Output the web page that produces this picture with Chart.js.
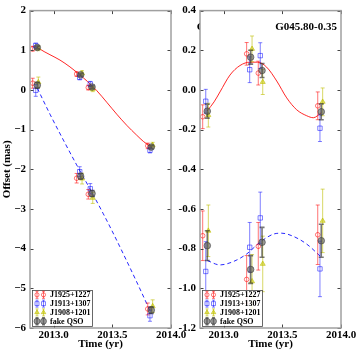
<!DOCTYPE html>
<html><head><meta charset="utf-8">
<script src="https://cdn.jsdelivr.net/npm/chart.js@4.4.1/dist/chart.umd.min.js"></script>
<style>
html,body{margin:0;padding:0;background:#fff;}
#wrap{position:relative;width:361px;height:354px;overflow:hidden;}
canvas{position:absolute;left:0;top:0;}
</style></head><body>
<div id="wrap"><canvas id="cL" width="361" height="354" style="width:361px;height:354px"></canvas><canvas id="cR" width="361" height="354" style="width:361px;height:354px"></canvas></div>
<script>
// ---------- data ----------
const sourceNames = ['J1925+1227', 'J1913+1307', 'J1908+1201', 'fake QSO'];
const fieldLabel = 'G045.80-0.35';
const xTickValues = [2013.0, 2013.5, 2014.0];
const leftYTickValues = [2, 1, 0, -1, -2, -3, -4, -5, -6];
const rightYTickValues = [0.4, 0.2, 0.0, -0.2, -0.4, -0.6, -0.8, -1.0, -1.2];

// observation epochs (years), per source (plotted with small offsets)
const epochRed    = [2012.823, 2013.197, 2013.296, 2013.802];
const epochBlue   = [2012.849, 2013.223, 2013.313, 2013.821];
const epochYellow = [2012.871, 2013.243, 2013.334, 2013.844];
const epochQSO    = [2012.862, 2013.231, 2013.328, 2013.832];

// left panel: total offsets (mas), upper series
const totUpRed    = [1.04, 0.40, 0.06, -1.41];
const totUpBlue   = [1.12, 0.32, 0.15, -1.52];
const totUpYellow = [1.05, 0.42, 0.02, -1.39];
const totUpQSO    = [1.07, 0.38, 0.075, -1.44];
// left panel: total offsets (mas), lower series
const totLoRed    = [0.17, -2.225, -2.63, -5.52];
const totLoBlue   = [-0.01, -2.06, -2.49, -5.69];
const totLoYellow = [0.195, -2.235, -2.72, -5.45];
const totLoQSO    = [0.12, -2.175, -2.61, -5.55];

// right panel: parallax-only offsets (mas)
const parUpRed    = [-0.135, 0.182, 0.085, -0.08];
const parUpBlue   = [-0.057, 0.102, 0.173, -0.193];
const parUpYellow = [-0.127, 0.207, 0.04, -0.06];
const parUpQSO    = [-0.107, 0.165, 0.098, -0.11];
const parLoRed    = [-0.735, -0.955, -0.788, -0.73];
const parLoBlue   = [-0.915, -0.793, -0.645, -0.902];
const parLoYellow = [-0.71, -0.965, -0.877, -0.66];
const parLoQSO    = [-0.785, -0.905, -0.768, -0.76];

// 1-sigma errors (mas)
const errUpRed    = [0.06, 0.057, 0.06, 0.07];
const errUpBlue   = [0.06, 0.065, 0.065, 0.067];
const errUpYellow = [0.06, 0.065, 0.063, 0.07];
const errUpQSO    = [0.035, 0.035, 0.035, 0.04];
const errLoRed    = [0.125, 0.12, 0.12, 0.15];
const errLoBlue   = [0.15, 0.125, 0.13, 0.14];
const errLoYellow = [0.13, 0.135, 0.14, 0.16];
const errLoQSO    = [0.075, 0.07, 0.075, 0.083];

// model curves
const curveUpTime = [2012.862, 2012.92, 2012.97, 2013.055, 2013.14, 2013.226, 2013.29, 2013.367, 2013.453, 2013.538, 2013.623, 2013.708, 2013.765, 2013.832];
const curveUpTot  = [1.07, 0.967, 0.888, 0.753, 0.581, 0.376, 0.211, -0.013, -0.31, -0.61, -0.89, -1.14, -1.297, -1.445];
const curveUpPar  = [-0.105, -0.06, -0.01, 0.075, 0.123, 0.14, 0.14, 0.115, 0.045, -0.04, -0.1, -0.13, -0.14, -0.115];
const curveLoTime = [2012.862, 2012.97, 2013.084, 2013.197, 2013.31, 2013.424, 2013.495, 2013.594, 2013.708, 2013.832];
const curveLoTot  = [0.045, -0.611, -1.263, -1.889, -2.493, -3.122, -3.533, -4.131, -4.839, -5.633];
const curveLoPar  = [-0.86, -0.882, -0.865, -0.827, -0.768, -0.727, -0.722, -0.738, -0.777, -0.843];

// ---------- styles ----------
const FONT = '"Liberation Serif", "Times New Roman", serif';
const tickFont = {family: FONT, size: 11, weight: 'bold'};
const styles = [
  {point: 'circle',   r: 2.3, bg: 'rgba(255,0,0,0)',      border: 'rgba(255,0,0,0.55)',  err: 'rgba(255,0,0,0.55)',  errW: 1,   cap: 2},
  {point: 'rect',     r: 3.1, bg: 'rgba(0,0,255,0)',      border: 'rgba(0,0,255,0.5)',   err: 'rgba(0,0,255,0.5)',   errW: 1,   cap: 2},
  {point: 'triangle', r: 2.9, bg: 'rgba(200,200,0,0.55)', border: 'rgba(190,190,0,0.6)', err: 'rgba(190,190,0,0.6)', errW: 1,   cap: 2},
  {point: 'circle',   r: 3.3, bg: 'rgba(90,90,90,0.6)',   border: 'rgba(60,60,60,0.6)',  err: 'rgba(30,30,30,0.6)',  errW: 1.6, cap: 2.5}
];

function pts(ts, ys, es) { return ts.map((t, i) => ({x: t, y: ys[i], e: es ? es[i] : 0})); }

function pointDatasets(epochs, ups, los, eUps, eLos) {
  return styles.map((st, k) => ({
    label: sourceNames[k],
    data: pts(epochs[k], ups[k], eUps[k]).concat(pts(epochs[k], los[k], eLos[k])),
    pointStyle: st.point, pointRadius: st.r, backgroundColor: st.bg, borderColor: st.border,
    pointBorderWidth: 1, showLine: false, order: 4 - k, errStyle: st
  }));
}
function curveDatasets(up, lo) {
  return [
    {label: 'fit1', data: pts(curveUpTime, up), showLine: true, pointRadius: 0, borderColor: 'rgba(255,0,0,0.85)',
     borderWidth: 1, cubicInterpolationMode: 'monotone', order: 10},
    {label: 'fit2', data: pts(curveLoTime, lo), showLine: true, pointRadius: 0, borderColor: 'rgba(0,0,255,0.85)',
     borderWidth: 1, borderDash: [4, 3], cubicInterpolationMode: 'monotone', order: 11}
  ];
}

const errorBarPlugin = {
  id: 'errbars',
  beforeDatasetDraw(chart, args) {
    const ds = chart.data.datasets[args.index];
    if (!ds.errStyle) return;
    const {ctx, scales: {x, y}, chartArea: a} = chart;
    const st = ds.errStyle;
    ctx.save();
    ctx.beginPath(); ctx.rect(a.left, a.top, a.right - a.left, a.bottom - a.top); ctx.clip();
    ctx.strokeStyle = st.err; ctx.lineWidth = st.errW;
    ds.data.forEach(p => {
      const px = x.getPixelForValue(p.x);
      const y0 = y.getPixelForValue(p.y - p.e), y1 = y.getPixelForValue(p.y + p.e);
      ctx.beginPath();
      ctx.moveTo(px, y0); ctx.lineTo(px, y1);
      ctx.moveTo(px - st.cap, y0); ctx.lineTo(px + st.cap, y0);
      ctx.moveTo(px - st.cap, y1); ctx.lineTo(px + st.cap, y1);
      ctx.stroke();
    });
    ctx.restore();
  }
};

function drawMarker(ctx, st, x, y, r) {
  ctx.fillStyle = st.bg; ctx.strokeStyle = st.border; ctx.lineWidth = 1;
  ctx.beginPath();
  if (st.point === 'circle') ctx.arc(x, y, r, 0, Math.PI * 2);
  else if (st.point === 'rect') { const s = r * Math.SQRT1_2; ctx.rect(x - s, y - s, 2 * s, 2 * s); }
  else { ctx.moveTo(x, y - r); ctx.lineTo(x + r * 0.866, y + r * 0.5); ctx.lineTo(x - r * 0.866, y + r * 0.5); ctx.closePath(); }
  ctx.fill(); ctx.stroke();
}

const framePlugin = {
  id: 'frame',
  afterDatasetsDraw(chart, args, opts) {
    const {ctx, chartArea: a, scales: {x, y}} = chart;
    ctx.save();
    // inward ticks on all sides
    ctx.strokeStyle = '#444'; ctx.lineWidth = 1;
    const tl = 3.5;
    ctx.beginPath();
    x.ticks.forEach(t => {
      const px = Math.round(x.getPixelForValue(t.value)) + 0.5;
      ctx.moveTo(px, a.bottom); ctx.lineTo(px, a.bottom - tl);
      ctx.moveTo(px, a.top); ctx.lineTo(px, a.top + tl);
    });
    y.ticks.forEach(t => {
      const py = Math.round(y.getPixelForValue(t.value)) + 0.5;
      ctx.moveTo(a.left, py); ctx.lineTo(a.left + tl, py);
      ctx.moveTo(a.right, py); ctx.lineTo(a.right - tl, py);
    });
    ctx.stroke();
    // spines
    ctx.strokeStyle = '#a0a0a0'; ctx.lineWidth = 1.5;
    ctx.strokeRect(a.left, a.top, a.right - a.left, a.bottom - a.top);
    // legend
    const bx = a.left + 2, bw = 60, bh = 36, by = a.bottom - 2 - bh;
    ctx.fillStyle = 'rgba(255,255,255,0.85)'; ctx.fillRect(bx, by, bw, bh);
    ctx.strokeStyle = '#444'; ctx.lineWidth = 0.8; ctx.strokeRect(bx + 0.5, by + 0.5, bw, bh);
    sourceNames.forEach((name, i) => {
      const cy = by + 4.8 + i * 8.8;
      const st = styles[i];
      [bx + 5, bx + 11.5].forEach(mx => {
        ctx.strokeStyle = st.err; ctx.lineWidth = st.errW;
        ctx.beginPath();
        ctx.moveTo(mx, cy - 3.5); ctx.lineTo(mx, cy + 3.5);
        ctx.moveTo(mx - 1.5, cy - 3.5); ctx.lineTo(mx + 1.5, cy - 3.5);
        ctx.moveTo(mx - 1.5, cy + 3.5); ctx.lineTo(mx + 1.5, cy + 3.5);
        ctx.stroke();
        drawMarker(ctx, st, mx, cy, st.r * 0.9);
      });
      ctx.fillStyle = '#000'; ctx.font = 'bold 8px ' + FONT; ctx.textBaseline = 'middle'; ctx.textAlign = 'left';
      ctx.fillText(name, bx + 18, cy + 0.5);
    });
    // field label
    if (opts && opts.label) {
      ctx.fillStyle = '#000'; ctx.font = 'bold 11px ' + FONT; ctx.textAlign = 'right'; ctx.textBaseline = 'alphabetic';
      ctx.fillText(opts.label, a.right - 4, a.top + 19.5);
      // partially hidden glyph left of the panel
      ctx.save();
      ctx.beginPath(); ctx.rect(a.left - 6, a.top + 8, 5.5, 14); ctx.clip();
      ctx.textAlign = 'left';
      ctx.fillText('G', a.left - 3.2, a.top + 19.5);
      ctx.restore();
    }
    ctx.restore();
  }
};

function makeChart(id, cfg) {
  return new Chart(document.getElementById(id), {
    type: 'scatter',
    data: {datasets: cfg.datasets},
    options: {
      responsive: false, animation: false, devicePixelRatio: 1,
      layout: {padding: cfg.padding},
      plugins: {legend: {display: false}, tooltip: {enabled: false}, frame: {label: cfg.label}},
      scales: {
        x: {
          type: 'linear', min: 2012.8, max: 2014.0,
          grid: {display: false, drawTicks: false}, border: {display: false},
          afterBuildTicks: s => { s.ticks = xTickValues.map(v => ({value: v})); },
          afterFit: s => { s.height = 26; },
          ticks: {font: tickFont, color: '#000', padding: 1, maxRotation: 0, autoSkip: false, callback: v => Number(v).toFixed(1)},
          title: {display: true, text: 'Time (yr)', font: tickFont, color: '#000', padding: {top: 0, bottom: 3}}
        },
        y: {
          type: 'linear', min: cfg.yMin, max: cfg.yMax,
          grid: {display: false, drawTicks: false}, border: {display: false},
          afterBuildTicks: s => { s.ticks = cfg.yTicks.map(v => ({value: v})); },
          afterFit: s => { s.width = 30; },
          ticks: {font: tickFont, color: '#000', padding: 4, autoSkip: false, callback: cfg.yFmt},
          title: cfg.yTitle ? {display: true, text: cfg.yTitle, font: tickFont, color: '#000', padding: {top: 1, bottom: 0}} : {display: false}
        }
      }
    },
    plugins: [errorBarPlugin, framePlugin]
  });
}

const epochs = [epochRed, epochBlue, epochYellow, epochQSO];

makeChart('cL', {
  datasets: curveDatasets(curveUpTot, curveLoTot).concat(pointDatasets(epochs,
    [totUpRed, totUpBlue, totUpYellow, totUpQSO], [totLoRed, totLoBlue, totLoYellow, totLoQSO],
    [errUpRed, errUpBlue, errUpYellow, errUpQSO], [errLoRed, errLoBlue, errLoYellow, errLoQSO])),
  padding: {left: 0, right: 190, top: 8, bottom: 0},
  yMin: -6, yMax: 2, yTicks: leftYTickValues,
  yFmt: v => (v < 0 ? '\u2212' + Math.abs(v) : String(v)),
  yTitle: 'Offset (mas)'
});

makeChart('cR', {
  datasets: curveDatasets(curveUpPar, curveLoPar).concat(pointDatasets(epochs,
    [parUpRed, parUpBlue, parUpYellow, parUpQSO], [parLoRed, parLoBlue, parLoYellow, parLoQSO],
    [errUpRed, errUpBlue, errUpYellow, errUpQSO], [errLoRed, errLoBlue, errLoYellow, errLoQSO])),
  padding: {left: 170, right: 20, top: 8, bottom: 0},
  yMin: -1.2, yMax: 0.4, yTicks: rightYTickValues,
  yFmt: v => Number(v).toFixed(1),
  label: fieldLabel
});
</script>
</body></html>
